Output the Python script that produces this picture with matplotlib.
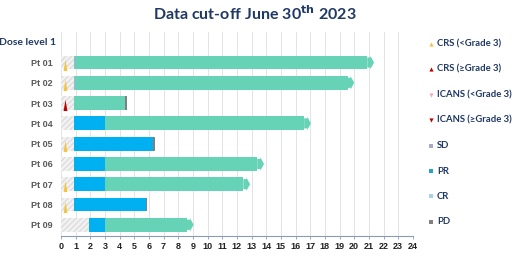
import matplotlib.pyplot as plt
from matplotlib.patches import Polygon

patients = ['Pt 01', 'Pt 02', 'Pt 03', 'Pt 04', 'Pt 05', 'Pt 06', 'Pt 07', 'Pt 08', 'Pt 09']
# segment ends (months); each segment starts where the previous one ends
pre_end = [0.9, 0.9, 0.9, 0.9, 0.9, 0.9, 0.9, 0.9, 1.9]
sd_end = [0.97, 0.97, 0.9, 0.9, 0.9, 0.9, 0.9, 0.9, 1.9]
pr_end = [0.97, 0.97, 0.9, 3.0, 6.28, 3.0, 3.0, 5.8, 3.0]
cr_end = [20.9, 19.55, 4.38, 16.6, 6.28, 13.4, 12.45, 5.8, 8.6]
pd_end = [20.9, 19.55, 4.5, 16.6, 6.4, 13.4, 12.45, 5.9, 8.6]
ongoing = [True, True, False, True, False, True, True, False, True]
crs = ['low', 'low', 'high', None, 'low', None, 'low', 'low', None]
crs_x = 0.25

legend_labels = ['CRS (<Grade 3)', 'CRS (\u2265Grade 3)', 'ICANS (<Grade 3)', 'ICANS (\u2265Grade 3)',
                 'SD', 'PR', 'CR', 'PD']
legend_markers = ['^', '^', 'v', 'v', 's', 's', 's', 's']
legend_colors = ['#f5c342', '#c00000', '#f4a6c8', '#c00000', '#a6a9c8', '#1fa6c9', '#a9d3e2', '#808080']

C_CR = '#66d2b6'
C_PR = '#00b0f0'
C_SD = '#9fb3d6'
C_PD = '#7f7f7f'
C_PRE = '#f2f2f2'
NAVY = '#1f3864'

thin_tri = [(-0.35, -1), (0.35, -1), (0, 1), (-0.35, -1)]

fig = plt.figure(figsize=(5.2, 2.57), dpi=100)
ax = fig.add_axes([0.117, 0.082, 0.677, 0.793])

rows = list(range(1, len(patients) + 1))
h = 0.68
for y, p0, s1, p1, c1, d1, ong, g in zip(rows, pre_end, sd_end, pr_end, cr_end, pd_end, ongoing, crs):
    ax.barh(y, p0, left=0, height=h, color=C_PRE, edgecolor='#dddddd', hatch='//////', lw=0, zorder=2)
    ax.barh(y, s1 - p0, left=p0, height=h, color=C_SD, lw=0, zorder=2)
    ax.barh(y, p1 - s1, left=s1, height=h, color=C_PR, lw=0, zorder=2)
    ax.barh(y, c1 - p1, left=p1, height=h, color=C_CR, lw=0, zorder=2)
    ax.barh(y, d1 - c1, left=c1, height=h, color=C_PD, lw=0, zorder=2)
    if ong:
        neck = 0.2
        tip = d1 + 0.45
        pts = [(d1 - 0.01, y - 0.25), (d1 + neck, y - 0.25), (d1 + neck, y - 0.33), (tip, y),
               (d1 + neck, y + 0.33), (d1 + neck, y + 0.25), (d1 - 0.01, y + 0.25)]
        ax.add_patch(Polygon(pts, closed=True, color=C_CR, lw=0, zorder=2))
    if g is not None:
        col = '#f5c342' if g == 'low' else '#c00000'
        ax.plot(crs_x, y + 0.1, marker=thin_tri, ms=8, color=col, mew=0, zorder=3)

ax.set_xlim(0, 24)
ax.set_ylim(9.55, -0.5)
ax.set_xticks(range(0, 25))
ax.grid(axis='x', color='#dedede', lw=0.6, zorder=0)
ax.set_axisbelow(True)
ax.set_yticks(rows)
ax.set_yticklabels(patients, fontsize=6.5, fontweight='bold', color='#595959', family='Liberation Sans')
ax.tick_params(axis='y', length=0, pad=6)
ax.tick_params(axis='x', length=2.5, width=0.6, color='#8c9bb5', pad=2)
for lab in ax.get_xticklabels():
    lab.set_fontsize(6.5)
    lab.set_fontweight('bold')
    lab.set_family('Liberation Sans')
    lab.set_color('#222222')
for s in ['top', 'right', 'left']:
    ax.spines[s].set_visible(False)
ax.spines['bottom'].set_color('#8c9bb5')
ax.spines['bottom'].set_linewidth(0.8)

ax.text(-0.3, 0, 'Dose level 1', ha='right', va='center', fontsize=7.5, fontweight='bold',
        color=NAVY, family='Lato')

fig.text(0.49, 0.948, r'Data cut-off June 30$^{\mathbf{th}}$ 2023', ha='center', va='center',
         fontsize=11.5, fontweight='bold', color=NAVY, family='Lato')

for i, (lab, m, c) in enumerate(zip(legend_labels, legend_markers, legend_colors)):
    ypx = 44 + i * 25.4
    yf = 1 - ypx / 257
    fig.lines.append(plt.Line2D([0.828], [yf], marker=m, ms=3, color=c, mew=0,
                                transform=fig.transFigure))
    fig.text(0.840, yf, lab, ha='left', va='center', fontsize=6.8, fontweight='bold',
             color=NAVY, family='Lato')

fig.savefig('out.png', dpi=100)
